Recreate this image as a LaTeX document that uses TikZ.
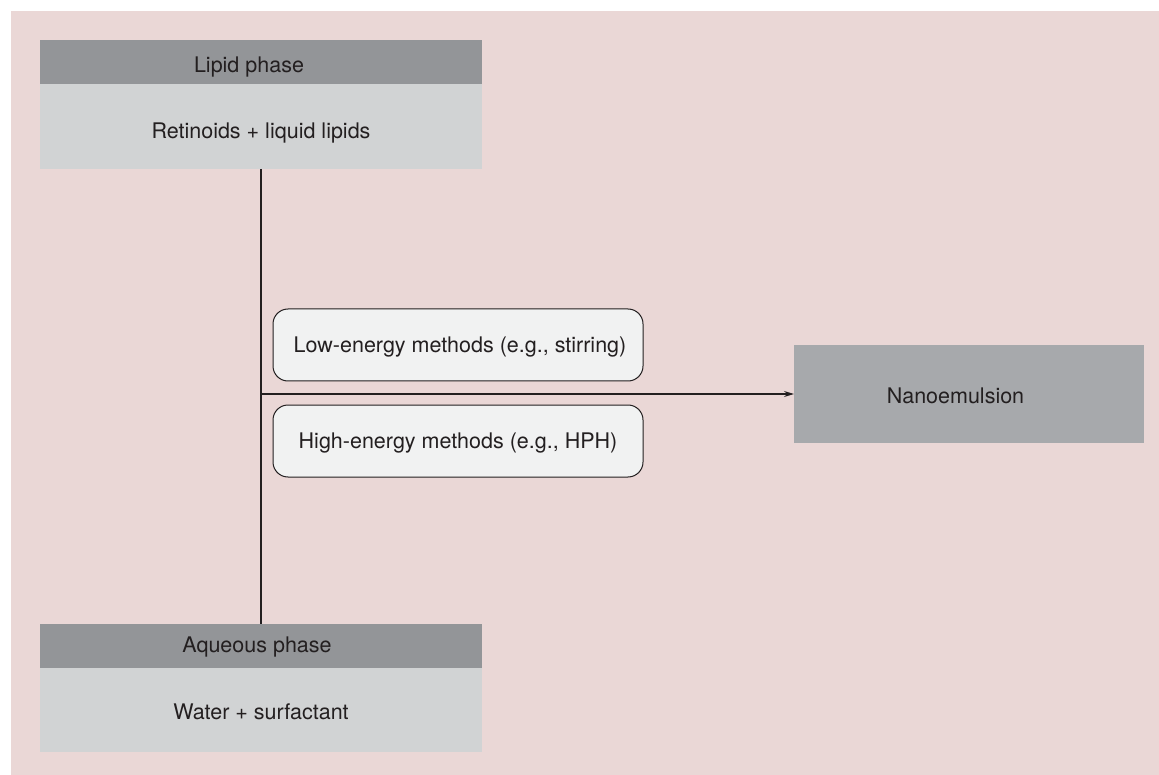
\documentclass[tikz,border=0pt]{standalone}
\usepackage{fontspec}
\setmainfont{TeX Gyre Heros}
\usepackage{tikz}
\usetikzlibrary{positioning}
\usetikzlibrary{calc}
\usetikzlibrary{arrows.meta}

\definecolor{bgpink}{HTML}{EAD7D6}
\definecolor{headgray}{HTML}{939598}
\definecolor{bodygray}{HTML}{D1D3D4}
\definecolor{resultgray}{HTML}{A7A9AC}
\definecolor{methodfill}{HTML}{F1F2F2}
\definecolor{inkdark}{HTML}{231F20}

\tikzset{
	every node/.style={align=center,inner sep=0pt,outer sep=0pt,text=inkdark,
		font=\fontsize{21.5}{25}\selectfont,text height=15.4pt,text depth=0pt},
	every label/.style={inner sep=0pt,outer sep=0pt},
	phasehead/.style={rectangle,fill=headgray,minimum width=442pt,minimum height=44pt},
	phasebody/.style={rectangle,fill=bodygray,minimum width=442pt,minimum height=85pt},
	methodbox/.style={rectangle,rounded corners=15pt,draw=inkdark,line width=1pt,fill=methodfill,minimum width=370pt,minimum height=72pt},
	resultbox/.style={rectangle,fill=resultgray,minimum width=350pt,minimum height=98pt},
	flow/.style={draw=inkdark,line width=1.3pt},
}

\begin{document}
\begin{tikzpicture}[x=1pt,y=-1pt]

			% frame and background.....................
			\useasboundingbox (0,0) rectangle (1159,775);
			\fill [bgpink] (11,11) rectangle (1159,775);

			% lipid phase....................
			\node [phasehead, label={[xshift=-12pt,yshift=-2.5pt]center:Lipid phase}] (lipidhead) at (261,62) {};
			\node [phasebody, below=0pt of lipidhead, label={[yshift=-4.5pt]center:Retinoids + liquid lipids}] (lipidbody) {};

			% aqueous phase...................
			\node [phasehead, label={[xshift=-4pt,yshift=1.5pt]center:Aqueous phase}] (aqhead) at (261,646) {};
			\node [phasebody, minimum height=84pt, below=0pt of aqhead, label={[yshift=-1.5pt]center:Water + surfactant}] (aqbody) {};

			% product.......................
			\node [resultbox, label={[xshift=-13.5pt,yshift=-2pt]center:Nanoemulsion}] (nano) at (969,394) {};

			% methods.........................
			\node [methodbox] (lowenergy) at (458,345) {\hspace*{4pt}Low-energy methods (e.g., stirring)};
			\node [methodbox] (highenergy) at (458,441) {High-energy methods (e.g., HPH)};

			% connectors.............
			\coordinate (junction) at (lipidbody.south |- nano.west);
			\draw [flow] (lipidbody.south) to (aqhead.north);
			\draw [flow, -{Stealth[length=10pt,width=6pt]}] (junction) to (nano.west);

		\end{tikzpicture}
\end{document}
